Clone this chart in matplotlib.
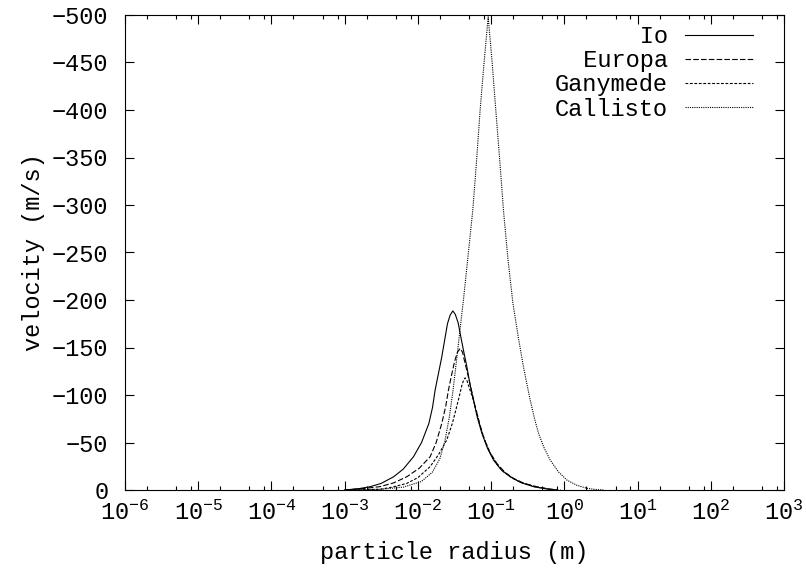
import numpy as np
import matplotlib
matplotlib.use("Agg")
import matplotlib.pyplot as plt
from matplotlib.ticker import LogLocator

plt.rcParams["font.family"] = ["Liberation Mono", "DejaVu Sans Mono"]
plt.rcParams["mathtext.fontset"] = "custom"
plt.rcParams["mathtext.rm"] = "Liberation Mono"
plt.rcParams["mathtext.it"] = "Liberation Mono"
plt.rcParams["font.size"] = 17

# log10 of particle radius (m) and settling velocity (m/s) for each moon
io_logr = [-3.0, -2.8, -2.65, -2.5, -2.33, -2.2, -2.06, -1.95, -1.85, -1.80,
           -1.765, -1.674, -1.596, -1.56, -1.523, -1.49, -1.45, -1.423, -1.38,
           -1.332, -1.29, -1.242, -1.19, -1.127, -1.05, -0.968, -0.86, -0.74,
           -0.6, -0.42, -0.25, -0.1]
io_v = [0, -1.5, -3.5, -7, -14, -22, -35, -50, -70, -87,
        -105, -140, -175, -184, -188.5, -185, -176, -165, -148,
        -130, -112, -95, -77, -60, -44, -31.6, -21, -14,
        -8, -3.5, -1.2, 0]

europa_logr = [-3.0, -2.75, -2.52, -2.33, -2.15, -1.98, -1.833, -1.75, -1.674,
               -1.62, -1.583, -1.54, -1.50, -1.46, -1.423, -1.39, -1.37, -1.31,
               -1.26, -1.219, -1.16, -1.105, -1.02, -0.922, -0.81, -0.695,
               -0.55, -0.376, -0.22, -0.1]
europa_v = [0, -1.5, -3.5, -7.5, -14, -23, -35, -50, -70,
            -88, -105, -121, -135, -145, -149, -145, -138, -119,
            -102, -88, -71, -56, -40, -28, -18.5, -12.3,
            -7, -3.5, -1.2, 0]

ganymede_logr = [-3.0, -2.52, -2.35, -2.15, -2.0, -1.833, -1.72, -1.606, -1.53,
                 -1.47, -1.43, -1.40, -1.375, -1.355, -1.33, -1.30, -1.242,
                 -1.19, -1.15, -1.08, -1.01, -0.92, -0.832, -0.7, -0.56,
                 -0.38, -0.19, -0.05]
ganymede_v = [0, -0.7, -3, -7, -13, -24.6, -37, -52.6, -70,
              -87.7, -100, -110, -116, -118, -115, -108, -94.7,
              -80, -66.7, -51, -38.6, -27, -19.3, -12, -7,
              -3, -0.7, 0]

callisto_logr = [-2.9, -2.5, -2.2, -1.95, -1.80, -1.70, -1.63, -1.57, -1.52,
                 -1.47, -1.423, -1.378, -1.31, -1.25, -1.2, -1.15, -1.096,
                 -1.04, -0.986, -0.936, -0.88, -0.832, -0.77, -0.703, -0.627,
                 -0.559, -0.51, -0.467, -0.41, -0.354, -0.28, -0.194, -0.08,
                 0.034, 0.17, 0.307, 0.42, 0.534]
callisto_v = [0, -0.8, -3, -9, -19, -33, -52, -77, -105,
              -138, -170, -200, -250, -295, -345, -400, -450,
              -498, -450, -400, -345, -295, -243, -197, -160,
              -130, -111, -95, -76, -60, -45, -31.6, -19,
              -10.5, -5, -1.8, -0.6, 0]

series = [
    ("      Io", io_logr, io_v, "-"),
    ("  Europa", europa_logr, europa_v, (0, (5, 2))),
    ("Ganymede", ganymede_logr, ganymede_v, (0, (2.5, 1.5))),
    ("Callisto", callisto_logr, callisto_v, (0, (1, 1))),
]

fig = plt.figure(figsize=(8.06, 5.72), dpi=100)
ax = fig.add_axes([125 / 806, 1 - 490 / 572, 659 / 806, 475 / 572])

for label, logr, v, ls in series:
    ax.plot(10 ** np.array(logr), v, color="black", linestyle=ls,
            linewidth=0.8, label=label)

ax.set_xscale("log")
ax.set_xlim(1e-6, 1e3)
ax.set_ylim(0, -500)
ax.set_yticks(np.arange(0, -501, -50))
ax.xaxis.set_major_locator(LogLocator(base=10, numticks=20))
ax.xaxis.set_minor_locator(LogLocator(base=10, subs=(2, 5, 8), numticks=20))

ax.tick_params(which="both", direction="in", top=True, right=True)
ax.tick_params(which="major", length=6.5, width=0.8, pad=8)
ax.tick_params(which="minor", length=3.2, width=0.8)
ax.tick_params(axis="y", pad=12)
for s in ax.spines.values():
    s.set_linewidth(0.8)

ax.set_xlabel("particle radius (m)", labelpad=11)
ax.set_ylabel("velocity (m/s)", labelpad=5)

ax.legend(loc="upper right", bbox_to_anchor=(753 / 806, 1 - 25 / 572),
          bbox_transform=fig.transFigure, frameon=False, markerfirst=False,
          handlelength=2.88, handletextpad=0.72, labelspacing=0.05,
          borderpad=0, borderaxespad=0)

plt.savefig("out.png", dpi=100)
